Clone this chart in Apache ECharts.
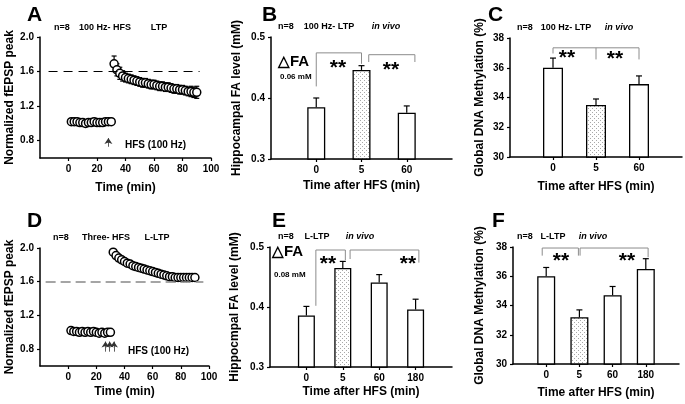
<!DOCTYPE html>
<html><head><meta charset="utf-8">
<script src="https://cdn.jsdelivr.net/npm/echarts@6.0.0/dist/echarts.min.js"></script>
<style>html,body{margin:0;padding:0;background:#fff}#c{width:685px;height:404px}</style>
</head><body><div id="c"></div>
<script>
// ---------- DATA ----------
const timeBaseline = [2,4,6,8,10,12,14,16,18,20,22,24,26,28,30];
const timePost = [32,34,36,38,40,42,44,46,48,50,52,54,56,58,60,62,64,66,68,70,72,74,76,78,80,82,84,86,88,90];
const baselineA = [1.02,1.02,1.02,1.01,1.01,1.00,1.01,1.01,1.02,1.01,1.01,1.01,1.02,1.02,1.02];
const baselineAErr = [0.01,0.01,0.01,0.01,0.01,0.01,0.01,0.01,0.01,0.01,0.01,0.01,0.01,0.01,0.01];
const postA = [1.69,1.62,1.58,1.55,1.53,1.52,1.51,1.50,1.49,1.48,1.47,1.47,1.46,1.45,1.45,1.44,1.43,1.43,1.42,1.42,1.41,1.40,1.40,1.39,1.39,1.38,1.37,1.37,1.36,1.36];
const postAErr = [0.09,0.07,0.07,0.06,0.05,0.05,0.05,0.05,0.05,0.05,0.05,0.05,0.05,0.05,0.05,0.05,0.05,0.05,0.05,0.05,0.05,0.05,0.05,0.05,0.05,0.05,0.05,0.06,0.06,0.07];
const baselineD = [1.02,1.01,1.01,1.00,1.01,1.00,1.01,1.00,1.01,1.00,0.99,1.00,0.99,1.00,1.00];
const baselineDErr = [0.02,0.02,0.02,0.02,0.02,0.02,0.02,0.02,0.02,0.02,0.02,0.02,0.02,0.02,0.02];
const postD = [1.95,1.91,1.88,1.86,1.84,1.82,1.81,1.79,1.78,1.77,1.76,1.75,1.74,1.73,1.72,1.71,1.70,1.69,1.68,1.67,1.66,1.66,1.65,1.65,1.65,1.65,1.65,1.65,1.65,1.65];
const postDErr = [0.02,0.03,0.03,0.03,0.03,0.03,0.03,0.03,0.03,0.03,0.03,0.03,0.03,0.03,0.03,0.03,0.03,0.03,0.03,0.03,0.03,0.03,0.03,0.03,0.03,0.03,0.03,0.03,0.03,0.03];
const lineXTicks = [0,20,40,60,80,100];
const lineYTicks = [0.8,1.2,1.6,2.0];
const thresholdLTP = 1.6;

const catsB = ['0','5','60'];
const valsB = [0.385,0.446,0.376];
const errB  = [0.015,0.007,0.011];
const catsC = ['0','5','60'];
const valsC = [36.0,33.5,34.9];
const errC  = [0.65,0.4,0.55];
const catsE = ['0','5','60','180'];
const valsE = [0.386,0.465,0.441,0.396];
const errE  = [0.015,0.011,0.013,0.017];
const catsF = ['0','5','60','180'];
const valsF = [36.0,33.2,34.7,36.5];
const errF  = [0.6,0.5,0.6,0.7];
const faTicks = [0.3,0.4,0.5];
const methTicks = [30,32,34,36,38];

// significance brackets (x in bar-slot units, y in data units)
const bracketsB = [{xl:1,xr:2,top:0.474,yl:0.419,yr:0.456},{xl:2.16,xr:3.18,top:0.471,yl:0.459,yr:0.459}];
const bracketsC = [{xl:1,xr:3,top:37.34,yl:36.96,yr:36.56,xm:2,ym:36.56}];
const bracketsE = [{xl:1.26,xr:2.07,top:0.495,yl:0.402,yr:0.478},{xl:2.2,xr:4.09,top:0.495,yl:0.48,yr:0.474}];
const bracketsF = [{xl:0.88,xr:1.97,top:37.93,yl:37.41,yr:37.41},{xl:2.02,xr:4.07,top:37.93,yl:37.41,yr:37.3}];

// ---------- STYLE ----------
const FF = 'Liberation Sans, Arial, Helvetica, sans-serif';
const pc = document.createElement('canvas'); pc.width = 4; pc.height = 4;
const pctx = pc.getContext('2d');
pctx.fillStyle = '#fff'; pctx.fillRect(0,0,4,4);
pctx.fillStyle = '#a8a8a8'; pctx.fillRect(0,0,1,1); pctx.fillRect(2,2,1,1);
const dotted = {image: pc, repeat: 'repeat'};

const axisLine = {show:true, onZero:false, lineStyle:{color:'#000', width:1.5}};
const labelStyle = {color:'#000', fontSize:10, fontWeight:'bold', fontFamily:FF, margin:6};
const nameStyle = {color:'#000', fontSize:12, fontWeight:'bold', fontFamily:FF};

function lineX(gi, gap) {
  return {gridIndex:gi, type:'value', min:-20, max:100,
    axisLine, splitLine:{show:false},
    axisTick:{customValues:lineXTicks, length:3, lineStyle:{color:'#000', width:1.2}},
    axisLabel:Object.assign({customValues:lineXTicks}, labelStyle),
    name:'Time (min)', nameLocation:'middle', nameGap:gap, nameTextStyle:nameStyle};
}
function lineY(gi, gap) {
  return {gridIndex:gi, type:'value', min:0.6, max:2.0,
    axisLine, splitLine:{show:false},
    axisTick:{customValues:lineYTicks, length:3, lineStyle:{color:'#000', width:1.2}},
    axisLabel:Object.assign({customValues:lineYTicks, formatter:v=>v.toFixed(1)}, labelStyle),
    name:'Normalized fEPSP peak', nameLocation:'middle', nameGap:gap, nameTextStyle:nameStyle};
}
function barX(gi, cats, gap) {
  const pos = cats.map((c,i)=>i+1);
  return {gridIndex:gi, type:'value', min:0, max:cats.length+1,
    axisLine, splitLine:{show:false},
    axisTick:{customValues:pos, length:3, lineStyle:{color:'#000', width:1.2}},
    axisLabel:Object.assign({customValues:pos, formatter:v=>cats[Math.round(v)-1]}, labelStyle),
    name:'Time after HFS (min)', nameLocation:'middle', nameGap:gap, nameTextStyle:nameStyle};
}
function barY(gi, min, max, ticks, dec, name, gap) {
  return {gridIndex:gi, type:'value', min, max,
    axisLine, splitLine:{show:false},
    axisTick:{customValues:ticks, length:3, lineStyle:{color:'#000', width:1.2}},
    axisLabel:Object.assign({customValues:ticks, formatter:v=>v.toFixed(dec)}, labelStyle),
    name, nameLocation:'middle', nameGap:gap, nameTextStyle:nameStyle};
}

function errRender(capHalf, twoSided) {
  return function(params, api) {
    const x = api.value(0), v = api.value(1), e = api.value(2);
    const pT = api.coord([x, v+e]), pM = api.coord([x, v]);
    const pB = twoSided ? api.coord([x, v-e]) : pM;
    const st = {stroke:'#000', lineWidth:1.2};
    const ch = [
      {type:'line', shape:{x1:pT[0],y1:pT[1],x2:pB[0],y2:pB[1]}, style:st},
      {type:'line', shape:{x1:pT[0]-capHalf,y1:pT[1],x2:pT[0]+capHalf,y2:pT[1]}, style:st}
    ];
    if (twoSided) ch.push({type:'line', shape:{x1:pB[0]-capHalf,y1:pB[1],x2:pB[0]+capHalf,y2:pB[1]}, style:st});
    return {type:'group', children:ch};
  };
}
function bracketSeries(gi, list) {
  return {type:'custom', xAxisIndex:gi, yAxisIndex:gi, silent:true, z:5,
    data:list.map((b,i)=>[i]),
    renderItem:function(params, api){
      const b = list[params.dataIndex];
      const st = {stroke:'#8c8c8c', lineWidth:1, fill:null};
      const L0 = api.coord([b.xl,b.yl]), L1 = api.coord([b.xl,b.top]);
      const R1 = api.coord([b.xr,b.top]), R0 = api.coord([b.xr,b.yr]);
      const ch = [{type:'polyline', shape:{points:[L0,L1,R1,R0]}, style:st}];
      if (b.xm != null) {
        const M1 = api.coord([b.xm,b.top]), M0 = api.coord([b.xm,b.ym]);
        ch.push({type:'line', shape:{x1:M1[0], y1:M1[1], x2:M0[0], y2:M0[1]}, style:st});
      }
      return {type:'group', children:ch};
    }};
}
function barSeries(gi, cats, vals, errs, bw) {
  return [
    {type:'bar', xAxisIndex:gi, yAxisIndex:gi, barWidth:bw, z:2,
      data:cats.map((c,i)=>({value:[i+1, vals[i]],
        itemStyle:{color: c==='5' ? dotted : '#fff', borderColor:'#000', borderWidth:1.3}}))},
    {type:'custom', xAxisIndex:gi, yAxisIndex:gi, z:3, silent:true,
      data:cats.map((c,i)=>[i+1, vals[i], errs[i]]), encode:{x:0,y:1},
      renderItem:errRender(3, false)}
  ];
}
function lineSeries(gi, base, baseErr, post, postErr, dashCfg, arrows) {
  const circ = {type:'scatter', xAxisIndex:gi, yAxisIndex:gi, symbol:'circle', symbolSize:8, z:4,
    itemStyle:{color:'#fff', borderColor:'#000', borderWidth:1.5, opacity:1}};
  return [
    {type:'custom', xAxisIndex:gi, yAxisIndex:gi, z:3, silent:true, encode:{x:0,y:1},
      data:timeBaseline.map((t,i)=>[t, base[i], baseErr[i]]).concat(timePost.map((t,i)=>[t, post[i], postErr[i]])),
      renderItem:errRender(2.5, true)},
    Object.assign({}, circ, {data:timeBaseline.map((t,i)=>[t, base[i]]),
      markLine:{silent:true, symbol:['none','arrow'], symbolSize:6, label:{show:false},
        lineStyle:{color:'#333', width:0.8, type:'solid'}, data:arrows}}),
    Object.assign({}, circ, {data:timePost.map((t,i)=>[t, post[i]]),
      markLine:{silent:true, symbol:'none', label:{show:false},
        lineStyle:dashCfg.style, data:[[{coord:[dashCfg.from, thresholdLTP]},{coord:[dashCfg.to, thresholdLTP]}]]}})
  ];
}

// ---------- TEXT ----------
function T(text, x, y, o) {
  o = o || {};
  return {type:'text', x, y, silent:true, z:10, style:{text, fill:'#000', fontFamily:FF,
    fontSize:o.size||9, fontWeight:'bold', fontStyle:o.italic?'italic':'normal',
    align:o.align||'center', verticalAlign:o.va||'middle'}};
}
const graphics = [
  T('A',27,5,{size:21,align:'left',va:'top'}), T('B',262,5,{size:21,align:'left',va:'top'}),
  T('C',488,5,{size:21,align:'left',va:'top'}), T('D',27,211,{size:21,align:'left',va:'top'}),
  T('E',272,211,{size:21,align:'left',va:'top'}), T('F',492,211,{size:21,align:'left',va:'top'}),
  T('n=8',62,28), T('100 Hz- HFS',105,28), T('LTP',159,28),
  T('n=8',286,27), T('100 Hz- LTP',329,27), T('in vivo',386,27,{italic:true}),
  T('n=8',525,28), T('100 Hz- LTP',566,28), T('in vivo',619,28,{italic:true}),
  T('n=8',61,238), T('Three- HFS',106,238), T('L-LTP',157,238),
  T('n=8',286,237), T('L-LTP',317,237), T('in vivo',360,237,{italic:true}),
  T('n=8',525,237), T('L-LTP',553,237), T('in vivo',593,237,{italic:true}),
  T('HFS (100 Hz)',125,145,{size:10,align:'left'}), T('HFS (100 Hz)',128,351,{size:10,align:'left'}),
  T('\u25B3FA',278,62,{size:15,align:'left'}), T('0.06 mM',280,77,{size:8,align:'left'}),
  T('\u25B3FA',272,252,{size:15,align:'left'}), T('0.08 mM',274,275,{size:8,align:'left'}),
  T('**',338,68,{size:21}), T('**',391,70,{size:21}),
  T('**',567,58,{size:21}), T('**',615,59,{size:21}),
  T('**',328,264,{size:21}), T('**',408,264,{size:21}),
  T('**',561,261,{size:21}), T('**',627,261,{size:21})
];

const option = {
  animation:false, backgroundColor:'#fff',
  grid:[
    {left:40, top:37, width:171, height:121},
    {left:271, top:37, width:181, height:122},
    {left:510, top:38, width:172, height:119},
    {left:40, top:248, width:169, height:118},
    {left:270, top:247, width:182, height:120},
    {left:513, top:247, width:166, height:117}
  ],
  xAxis:[ lineX(0,24), barX(1,catsB,21), barX(2,catsC,24), lineX(3,20), barX(4,catsE,19), barX(5,catsF,23) ],
  yAxis:[
    lineY(0,24),
    barY(1,0.3,0.5,faTicks,1,'Hippocampal FA level (mM)',28),
    barY(2,30,38,methTicks,0,'Global DNA Methylation (%)',24),
    lineY(3,24),
    barY(4,0.3,0.5,faTicks,1,'Hippocmpal FA level (mM)',29),
    barY(5,30,38,methTicks,0,'Global DNA Methylation (%)',27)
  ],
  series:[].concat(
    lineSeries(0, baselineA, baselineAErr, postA, postAErr,
      {from:-14, to:92, style:{color:'#000', width:1, type:[9,6]}},
      [[{coord:[28,0.73]},{coord:[28,0.83]}]]),
    barSeries(1, catsB, valsB, errB, 18),
    bracketSeries(1, bracketsB),
    barSeries(2, catsC, valsC, errC, 20),
    bracketSeries(2, bracketsC),
    lineSeries(3, baselineD, baselineDErr, postD, postDErr,
      {from:-16, to:96, style:{color:'#888', width:1.6, type:[10,5]}},
      [[{coord:[26.5,0.77]},{coord:[26.5,0.89]}],[{coord:[29.5,0.77]},{coord:[29.5,0.89]}],[{coord:[32.5,0.77]},{coord:[32.5,0.89]}]]),
    barSeries(4, catsE, valsE, errE, 17),
    bracketSeries(4, bracketsE),
    barSeries(5, catsF, valsF, errF, 18),
    bracketSeries(5, bracketsF)
  ),
  graphic:graphics
};
const chart = echarts.init(document.getElementById('c'), null, {renderer:'canvas'});
chart.setOption(option);
</script>
</body></html>
